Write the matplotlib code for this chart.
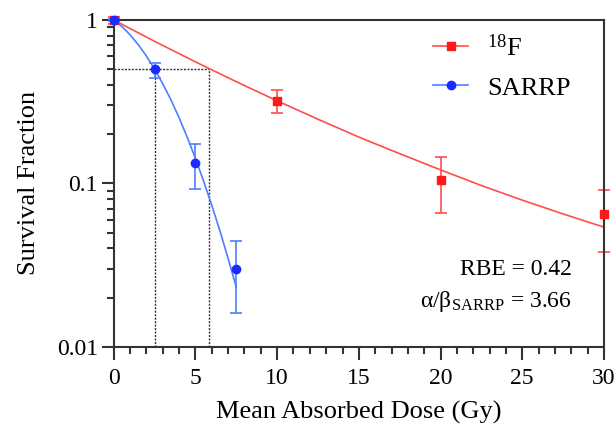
import numpy as np
import matplotlib.pyplot as plt
from matplotlib.lines import Line2D
from matplotlib.ticker import FixedLocator, NullFormatter, LogLocator

plt.rcParams['font.family'] = ['Liberation Serif', 'DejaVu Serif']
plt.rcParams['mathtext.fontset'] = 'custom'
plt.rcParams['mathtext.rm'] = 'Liberation Serif'
plt.rcParams['mathtext.it'] = 'Liberation Serif:italic'

# measured points
f18_dose = [0, 10, 20, 30]
f18_sf = [1.0, 0.32, 0.105, 0.065]
f18_lo = [0.95, 0.27, 0.066, 0.038]
f18_hi = [1.04, 0.373, 0.145, 0.091]

sarrp_dose = [0, 2.5, 5, 7.5]
sarrp_sf = [1.0, 0.5, 0.133, 0.030]
sarrp_lo = [0.98, 0.44, 0.092, 0.016]
sarrp_hi = [1.01, 0.546, 0.174, 0.0446]

# fitted curves
f18_fit_dose = [0, 2.5, 5, 7.5, 10, 12.5, 15, 17.5, 20, 22.5, 25, 27.5, 30]
f18_fit_sf = [1.0, 0.740, 0.554, 0.419, 0.32, 0.247, 0.192, 0.152, 0.121, 0.097, 0.079, 0.065, 0.054]
sarrp_fit_dose = [0, 0.5, 1, 1.5, 2, 2.5, 3, 3.5, 4, 4.5, 5, 5.5, 6, 6.5, 7, 7.5]
sarrp_fit_sf = [1.0, 0.911, 0.811, 0.706, 0.601, 0.5, 0.407, 0.324, 0.252, 0.191, 0.142,
                0.103, 0.0734, 0.0511, 0.0347, 0.0231]

# D50 guide lines
d50_sarrp = 2.5
d50_f18 = 5.8

red_line = '#ff4d4d'
red_mk = '#ff1a1a'
blue_line = '#4d7fff'
blue_mk = '#1a2bff'

fig = plt.figure(figsize=(6.15, 4.25), dpi=100)
ax = fig.add_axes([0.185, 0.184, 0.797, 0.769])

ax.plot([0, d50_f18], [0.5, 0.5], ls=(0, (1.5, 1)), color='#333333', lw=1)
ax.plot([d50_sarrp, d50_sarrp], [0.01, 0.5], ls=(0, (1.5, 1)), color='#333333', lw=1)
ax.plot([d50_f18, d50_f18], [0.01, 0.5], ls=(0, (1.5, 1)), color='#333333', lw=1)

ax.plot(f18_fit_dose, f18_fit_sf, color=red_line, lw=1.2)
ax.plot(sarrp_fit_dose, sarrp_fit_sf, color=blue_line, lw=1.2)

f18_err = [np.array(f18_sf) - np.array(f18_lo), np.array(f18_hi) - np.array(f18_sf)]
sarrp_err = [np.array(sarrp_sf) - np.array(sarrp_lo), np.array(sarrp_hi) - np.array(sarrp_sf)]
ax.errorbar(f18_dose, f18_sf, yerr=f18_err, fmt='none', ecolor=red_line, elinewidth=1.2,
            capsize=4, capthick=1.2, clip_on=False)
ax.errorbar(sarrp_dose, sarrp_sf, yerr=sarrp_err, fmt='none', ecolor=blue_line, elinewidth=1.2,
            capsize=4, capthick=1.2, clip_on=False)
ax.plot(f18_dose, f18_sf, 's', color=red_mk, ms=6, clip_on=False, zorder=5)
ax.plot(sarrp_dose, sarrp_sf, 'o', color=blue_mk, ms=6, clip_on=False, zorder=6)

ax.set_yscale('log')
ax.set_xlim(0, 30)
ax.set_ylim(0.01, 1)
ax.set_xticks([0, 5, 10, 15, 20, 25, 30])
ax.xaxis.set_minor_locator(FixedLocator(np.arange(0, 31, 1)))
ax.set_yticks([0.01, 0.1, 1])
ax.set_yticklabels(['0.01', '0.1', '1'])
ax.yaxis.set_minor_locator(LogLocator(base=10, subs=np.arange(2, 10)))
ax.yaxis.set_minor_formatter(NullFormatter())

for s in ax.spines.values():
    s.set_linewidth(1.5)
    s.set_color('#333333')
ax.tick_params(which='major', length=9, width=1.5, color='#333333', labelsize=17)
ax.tick_params(which='minor', length=5, width=1.5, color='#333333')
ax.tick_params(axis='x', which='major', pad=6)
ax.tick_params(axis='y', which='major', pad=2.5)

ax.set_xlabel('Mean Absorbed Dose (Gy)', fontsize=19, labelpad=9)
ax.set_ylabel('Survival Fraction', fontsize=19, labelpad=12)

handles = [Line2D([], [], color=red_line, marker='s', mfc=red_mk, mec=red_mk, ms=6, lw=1.2),
           Line2D([], [], color=blue_line, marker='o', mfc=blue_mk, mec=blue_mk, ms=6, lw=1.2)]
ax.legend(handles, ['$^{18}$F', 'SARRP'], loc='upper right', bbox_to_anchor=(0.98, 1.03),
          frameon=False, fontsize=19, handlelength=1.35, handletextpad=0.7, labelspacing=0.6)

ax.text(0.935, 0.235, 'RBE = 0.42', transform=ax.transAxes, ha='right', va='center', fontsize=17)
ax.text(0.935, 0.14, 'α/β$_{\\mathrm{SARRP}}$ = 3.66', transform=ax.transAxes, ha='right',
        va='center', fontsize=17)

fig.savefig('out.png', dpi=100)
